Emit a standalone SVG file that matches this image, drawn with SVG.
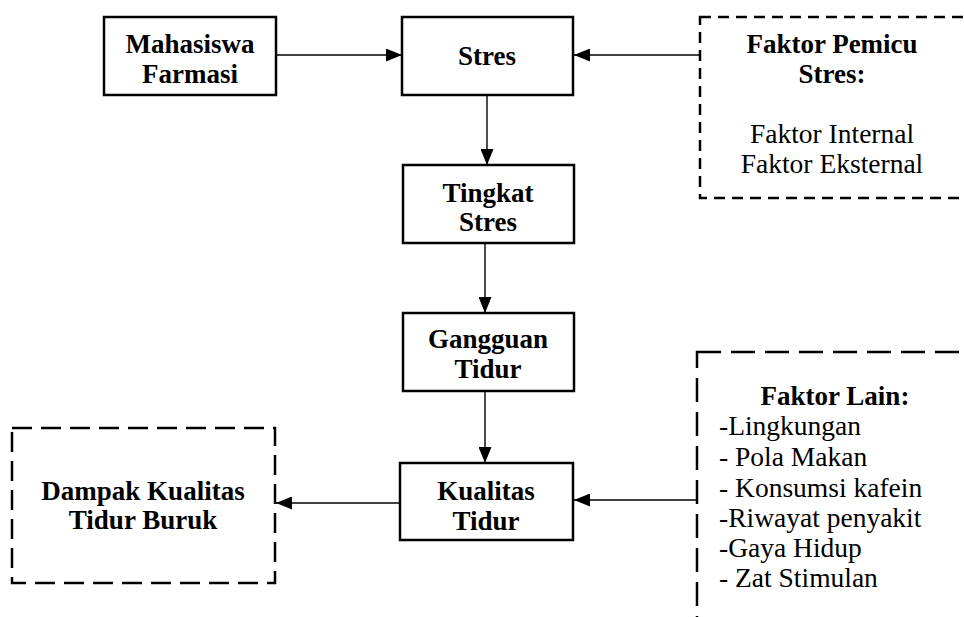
<svg xmlns="http://www.w3.org/2000/svg" width="964" height="617" viewBox="0 0 964 617">
<style>
.box{fill:#fff;stroke:#000;stroke-width:2.5}
.dash1{fill:none;stroke:#000;stroke-width:2.5;stroke-dasharray:11 7}
.dash2{fill:none;stroke:#000;stroke-width:2.5;stroke-dasharray:20 9}
.dash3{fill:none;stroke:#000;stroke-width:2.5;stroke-dasharray:24 10}
.b{font-family:"Liberation Serif","Times New Roman",serif;font-weight:bold;font-size:27px;text-anchor:middle;fill:#000}
.r{font-family:"Liberation Serif","Times New Roman",serif;font-size:27.5px;fill:#000}
.c{stroke:#000;stroke-width:1.4;fill:none;marker-end:url(#ah)}
</style>
<defs>
<marker id="ah" viewBox="0 0 16 13" refX="16" refY="6.5" markerWidth="16" markerHeight="13" markerUnits="userSpaceOnUse" orient="auto">
<path d="M0,0 L16,6.5 L0,13 Z" fill="#000"/>
</marker>
</defs>
<g id="connectors">
<line class="c" x1="276" y1="55" x2="402" y2="55"/>
<line class="c" x1="700" y1="55" x2="574" y2="55"/>
<line class="c" x1="487" y1="95" x2="487" y2="165"/>
<line class="c" x1="485" y1="243" x2="485" y2="313"/>
<line class="c" x1="485" y1="391" x2="485" y2="463"/>
<line class="c" x1="400" y1="503" x2="276" y2="503"/>
<line class="c" x1="697" y1="500" x2="574" y2="500"/>
</g>
<g id="mahasiswa">
<rect class="box" x="104" y="17" width="172" height="78"/>
<text class="b" x="190" y="53">Mahasiswa</text>
<text class="b" x="190" y="83">Farmasi</text>
</g>
<g id="stres">
<rect class="box" x="402" y="17" width="171" height="78"/>
<text class="b" x="487" y="65">Stres</text>
</g>
<g id="faktor-pemicu">
<rect class="dash1" x="700" y="17" width="300" height="181"/>
<text class="b" x="832" y="53">Faktor Pemicu</text>
<text class="b" x="832" y="83">Stres:</text>
<text class="r" x="832" y="143" text-anchor="middle">Faktor Internal</text>
<text class="r" x="832" y="173" text-anchor="middle">Faktor Eksternal</text>
</g>
<g id="tingkat-stres">
<rect class="box" x="403" y="165" width="171" height="78"/>
<text class="b" x="488" y="202">Tingkat</text>
<text class="b" x="488" y="231">Stres</text>
</g>
<g id="gangguan-tidur">
<rect class="box" x="403" y="313" width="171" height="78"/>
<text class="b" x="488" y="348">Gangguan</text>
<text class="b" x="488" y="378">Tidur</text>
</g>
<g id="kualitas-tidur">
<rect class="box" x="400" y="463" width="173" height="77"/>
<text class="b" x="486" y="500">Kualitas</text>
<text class="b" x="486" y="530">Tidur</text>
</g>
<g id="dampak">
<rect class="dash2" x="12" y="428" width="263" height="155"/>
<text class="b" x="143" y="500">Dampak Kualitas</text>
<text class="b" x="143" y="529">Tidur Buruk</text>
</g>
<g id="faktor-lain">
<rect class="dash3" x="697" y="352" width="320" height="300"/>
<text class="b" x="835" y="405">Faktor Lain:</text>
<text class="r" x="719" y="435">-Lingkungan</text>
<text class="r" x="719" y="466">- Pola Makan</text>
<text class="r" x="719" y="497">- Konsumsi kafein</text>
<text class="r" x="719" y="527">-Riwayat penyakit</text>
<text class="r" x="719" y="557">-Gaya Hidup</text>
<text class="r" x="719" y="587">- Zat Stimulan</text>
</g>
</svg>
